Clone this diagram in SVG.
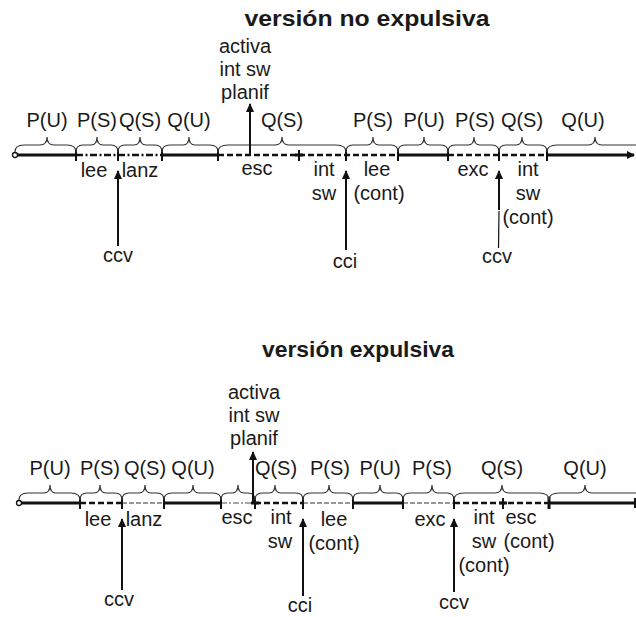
<svg xmlns="http://www.w3.org/2000/svg" width="636" height="617" viewBox="0 0 636 617">
  <defs>
    <marker id="ah" markerWidth="8" markerHeight="8" refX="7" refY="4" orient="auto" markerUnits="userSpaceOnUse">
      <path d="M0,0 L8,4 L0,8 Z" fill="#111"/>
    </marker>
    <marker id="upHead" markerWidth="8" markerHeight="9" refX="4" refY="1" orient="0" markerUnits="userSpaceOnUse">
      <path d="M4,0 L8,9 L0,9 Z" fill="#111"/>
    </marker>
  </defs>
  <style>
    text { font-family: "Liberation Sans", Arial, sans-serif; font-size: 20px; fill: #1a1a1a; text-anchor: middle; }
    .title { font-weight: bold; font-size: 22px; }
    .solid { stroke: #111; stroke-width: 3; fill: none; }
    .dash { stroke: #111; stroke-width: 2.5; stroke-dasharray: 6 3; fill: none; }
    .dashdot { stroke: #111; stroke-width: 2.5; stroke-dasharray: 7 2.5 2 2.5; fill: none; }
    .gdash { stroke: #777; stroke-width: 1.5; stroke-dasharray: 5 2; fill: none; }
    .gdashdot { stroke: #888; stroke-width: 1.5; stroke-dasharray: 6 2 2 2; fill: none; }
    .tick { stroke: #111; stroke-width: 2; }
    .brace { stroke: #333; stroke-width: 1.2; fill: none; }
    .arrow { stroke: #111; stroke-width: 2; fill: none; }
    .thin { stroke: #111; stroke-width: 1.2; fill: none; }
  </style>

  <!-- ===== versión no expulsiva ===== -->
  <g id="title-top">
    <text class="title" x="367" y="26" textLength="245" lengthAdjust="spacingAndGlyphs">versión no expulsiva</text>
  </g>

  <g id="timeline-top">
    <line class="solid" x1="15" y1="155" x2="76" y2="155"/>
    <line class="dashdot" x1="76" y1="155" x2="162" y2="155"/>
    <line class="solid" x1="162" y1="155" x2="218" y2="155"/>
    <line class="dash" x1="218" y1="155" x2="398" y2="155"/>
    <line class="solid" x1="398" y1="155" x2="448" y2="155"/>
    <line class="dash" x1="448" y1="155" x2="547" y2="155"/>
    <line class="solid" x1="547" y1="155" x2="634" y2="155" marker-end="url(#ah)"/>
    <circle cx="15" cy="155" r="2.5" fill="#fff" stroke="#111" stroke-width="1.3"/>
    <g class="tick">
      <line x1="76" y1="150" x2="76" y2="161"/>
      <line x1="118" y1="150" x2="118" y2="161"/>
      <line x1="162" y1="150" x2="162" y2="161"/>
      <line x1="218" y1="150" x2="218" y2="161"/>
      <line x1="299" y1="150" x2="299" y2="161"/>
      <line x1="295" y1="155" x2="303" y2="155" stroke-width="3"/>
      <line x1="346" y1="150" x2="346" y2="161"/>
      <line x1="398" y1="150" x2="398" y2="161"/>
      <line x1="448" y1="150" x2="448" y2="161"/>
      <line x1="499" y1="150" x2="499" y2="161"/>
      <line x1="547" y1="150" x2="547" y2="161"/>
    </g>
  </g>

  <g id="braces-top">
    <path class="brace" d="M15,152 Q15,145 24,145 L40,145 Q47,145 47,137 Q47,145 54,145 L67,145 Q76,145 76,152"/>
    <path class="brace" d="M76,152 Q76,145 83,145 L91,145 Q97,145 97,137 Q97,145 103,145 L111,145 Q118,145 118,152"/>
    <path class="brace" d="M118,152 Q118,145 125,145 L134,145 Q140,145 140,137 Q140,145 146,145 L155,145 Q162,145 162,152"/>
    <path class="brace" d="M162,152 Q162,145 170,145 L183,145 Q189,145 189,137 Q189,145 195,145 L210,145 Q218,145 218,152"/>
    <path class="brace" d="M218,152 Q218,145 228,145 L275,145 Q282,145 282,137 Q282,145 289,145 L336,145 Q346,145 346,152"/>
    <path class="brace" d="M346,152 Q346,145 353,145 L367,145 Q373,145 373,137 Q373,145 379,145 L391,145 Q398,145 398,152"/>
    <path class="brace" d="M398,152 Q398,145 405,145 L418,145 Q424,145 424,137 Q424,145 430,145 L441,145 Q448,145 448,152"/>
    <path class="brace" d="M448,152 Q448,145 455,145 L468,145 Q474,145 474,137 Q474,145 480,145 L492,145 Q499,145 499,152"/>
    <path class="brace" d="M499,152 Q499,145 506,145 L516,145 Q522,145 522,137 Q522,145 528,145 L540,145 Q547,145 547,152"/>
    <path class="brace" d="M547,152 Q547,145 557,145 L588,145 Q595,145 595,137 Q595,145 602,145 L636,145"/>
  </g>

  <g id="labels-top">
    <text x="47" y="127">P(U)</text>
    <text x="97" y="127">P(S)</text>
    <text x="140" y="127">Q(S)</text>
    <text x="189" y="127">Q(U)</text>
    <text x="282" y="127">Q(S)</text>
    <text x="373" y="127">P(S)</text>
    <text x="424" y="127">P(U)</text>
    <text x="475" y="127">P(S)</text>
    <text x="522" y="127">Q(S)</text>
    <text x="583" y="127">Q(U)</text>

    <text x="245" y="53">activa</text>
    <text x="245" y="76">int sw</text>
    <text x="245" y="99">planif</text>

    <text x="94" y="177">lee</text>
    <text x="140" y="177">lanz</text>
    <text x="257" y="175">esc</text>
    <text x="324" y="176">int</text>
    <text x="324" y="200">sw</text>
    <text x="377" y="176">lee</text>
    <text x="379" y="200">(cont)</text>
    <text x="473" y="176">exc</text>
    <text x="528" y="176">int</text>
    <text x="528" y="200">sw</text>
    <text x="528" y="224">(cont)</text>

    <text x="118" y="262">ccv</text>
    <text x="345" y="268">cci</text>
    <text x="497" y="263">ccv</text>
  </g>

  <g id="events-top">
    <line class="arrow" x1="250" y1="155" x2="250" y2="104" marker-end="url(#upHead)"/>
    <line class="arrow" x1="118" y1="246" x2="118" y2="171" marker-end="url(#upHead)"/>
    <line class="arrow" x1="346" y1="250" x2="346" y2="171" marker-end="url(#upHead)"/>
    <line class="arrow" x1="499" y1="210" x2="499" y2="171" marker-end="url(#upHead)"/>
    <line class="thin" x1="499" y1="211" x2="498.5" y2="248"/>
  </g>

  <!-- ===== versión expulsiva ===== -->
  <g id="title-bottom">
    <text class="title" x="358" y="357" textLength="192" lengthAdjust="spacingAndGlyphs">versión expulsiva</text>
  </g>

  <g id="timeline-bottom">
    <line class="solid" x1="19" y1="503" x2="80" y2="503"/>
    <line class="dash" x1="80" y1="503" x2="122" y2="503"/>
    <line class="gdash" x1="122" y1="503" x2="164" y2="503"/>
    <line class="solid" x1="164" y1="503" x2="221" y2="503"/>
    <line class="gdashdot" x1="221" y1="503" x2="255" y2="503"/>
    <line class="dash" x1="255" y1="503" x2="303" y2="503"/>
    <line class="gdash" x1="303" y1="503" x2="353" y2="503"/>
    <line class="solid" x1="353" y1="503" x2="403" y2="503"/>
    <line class="gdash" x1="403" y1="503" x2="454" y2="503"/>
    <line class="dash" x1="454" y1="503" x2="549" y2="503"/>
    <line class="solid" x1="549" y1="503" x2="636" y2="503"/>
    <circle cx="19" cy="503" r="2.5" fill="#fff" stroke="#111" stroke-width="1.3"/>
    <g class="tick">
      <line x1="80" y1="498" x2="80" y2="509"/>
      <line x1="122" y1="498" x2="122" y2="509"/>
      <line x1="164" y1="498" x2="164" y2="509"/>
      <line x1="221" y1="498" x2="221" y2="509"/>
      <line x1="255" y1="498" x2="255" y2="509"/>
      <line x1="251" y1="503" x2="259" y2="503" stroke-width="3"/>
      <line x1="303" y1="498" x2="303" y2="509"/>
      <line x1="353" y1="498" x2="353" y2="509"/>
      <line x1="403" y1="498" x2="403" y2="509"/>
      <line x1="454" y1="498" x2="454" y2="509"/>
      <line x1="503" y1="498" x2="503" y2="509"/>
      <line x1="499" y1="503" x2="507" y2="503" stroke-width="3"/>
      <line x1="549" y1="497" x2="549" y2="509" stroke-width="3"/>
      <line x1="635" y1="498" x2="635" y2="508"/>
    </g>
  </g>

  <g id="braces-bottom">
    <path class="brace" d="M19,500 Q19,493 28,493 L44,493 Q50,493 50,485 Q50,493 56,493 L71,493 Q80,493 80,500"/>
    <path class="brace" d="M80,500 Q80,493 87,493 L94,493 Q100,493 100,485 Q100,493 106,493 L115,493 Q122,493 122,500"/>
    <path class="brace" d="M122,500 Q122,493 129,493 L139,493 Q145,493 145,485 Q145,493 151,493 L157,493 Q164,493 164,500"/>
    <path class="brace" d="M164,500 Q164,493 172,493 L187,493 Q193,493 193,485 Q193,493 199,493 L213,493 Q221,493 221,500"/>
    <path class="brace" d="M221,500 Q221,493 228,493 L232,493 Q238,493 238,485 Q238,493 244,493 L248,493 Q255,493 255,500"/>
    <path class="brace" d="M255,500 Q255,493 262,493 L269,493 Q275,493 275,485 Q275,493 281,493 L296,493 Q303,493 303,500"/>
    <path class="brace" d="M303,500 Q303,493 310,493 L323,493 Q329,493 329,485 Q329,493 335,493 L346,493 Q353,493 353,500"/>
    <path class="brace" d="M353,500 Q353,493 360,493 L374,493 Q380,493 380,485 Q380,493 386,493 L396,493 Q403,493 403,500"/>
    <path class="brace" d="M403,500 Q403,493 410,493 L426,493 Q432,493 432,485 Q432,493 438,493 L447,493 Q454,493 454,500"/>
    <path class="brace" d="M454,500 Q454,493 464,493 L495,493 Q502,493 502,485 Q502,493 509,493 L539,493 Q549,493 549,500"/>
    <path class="brace" d="M549,500 Q549,493 559,493 L578,493 Q585,493 585,485 Q585,493 592,493 L636,493"/>
  </g>

  <g id="labels-bottom">
    <text x="50" y="475">P(U)</text>
    <text x="100" y="475">P(S)</text>
    <text x="145" y="475">Q(S)</text>
    <text x="193" y="475">Q(U)</text>
    <text x="276" y="475">Q(S)</text>
    <text x="330" y="475">P(S)</text>
    <text x="380" y="475">P(U)</text>
    <text x="432" y="475">P(S)</text>
    <text x="502" y="475">Q(S)</text>
    <text x="585" y="475">Q(U)</text>

    <text x="254" y="399">activa</text>
    <text x="254" y="422">int sw</text>
    <text x="254" y="445">planif</text>

    <text x="98" y="526">lee</text>
    <text x="144" y="526">lanz</text>
    <text x="237" y="524">esc</text>
    <text x="281" y="524">int</text>
    <text x="280" y="548">sw</text>
    <text x="334" y="526">lee</text>
    <text x="334" y="550">(cont)</text>
    <text x="430" y="526">exc</text>
    <text x="484" y="524">int</text>
    <text x="484" y="548">sw</text>
    <text x="484" y="572">(cont)</text>
    <text x="521" y="524">esc</text>
    <text x="529" y="548">(cont)</text>

    <text x="119" y="606">ccv</text>
    <text x="300" y="612">cci</text>
    <text x="454" y="609">ccv</text>
  </g>

  <g id="events-bottom">
    <line class="arrow" x1="253" y1="503" x2="253" y2="452" marker-end="url(#upHead)"/>
    <line class="arrow" x1="122" y1="590" x2="122" y2="519" marker-end="url(#upHead)"/>
    <line class="arrow" x1="303" y1="596" x2="303" y2="519" marker-end="url(#upHead)"/>
    <line class="arrow" x1="454" y1="592" x2="454" y2="519" marker-end="url(#upHead)"/>
  </g>
</svg>
